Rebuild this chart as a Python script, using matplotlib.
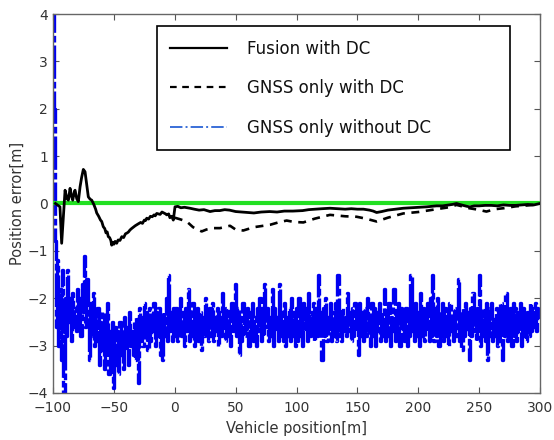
import numpy as np
import matplotlib
matplotlib.use("Agg")
import matplotlib.pyplot as plt
from matplotlib.lines import Line2D

# ---------------- data ----------------
fusion_x = [-98, -94.3, -92.9, -90.1, -88.5, -87.4, -86, -84.8, -83.8, -82.5, -81.9, -80.5,
            -79.2, -77.8, -76.5, -75.1, -73.7, -72.3, -71, -69.5, -68.2, -66.5, -65, -64.1, -62.5, -61, -60, -58.7,
            -57.5, -56.5, -55.5, -54.6, -53.5, -52.5, -51.8, -51, -50, -49, -47.7, -46.5, -45, -43.5, -42, -40.5, -39, -38,
            -36.8, -35.5, -34, -32.5, -31.3, -30, -28, -26.5, -25, -24, -23, -21.5, -20, -18.5, -17, -16, -14.8, -13.5,
            -12, -10.5, -9, -7.5, -6.6, -5, -4, -2.5, -1.2, 0.2, 2.5, 5, 8, 12.5, 16, 20, 24, 29, 33, 37,
            41, 45, 50, 55, 60, 65, 71, 78, 84, 90, 97, 105, 110, 115, 121, 127.5, 134, 140, 145, 150, 155, 160,
            163, 165.8, 170, 175, 181, 187.7, 194, 200, 207, 215, 220, 225, 228, 231.5, 234, 237, 240, 242.5, 246,
            250, 255, 260, 265, 270, 275, 280, 285, 290, 295, 300]
fusion_y = [0.0, -0.07, -0.84, 0.28, 0.1, 0.07, 0.32, 0.15, 0.07, 0.25, 0.28, 0.1,
            0.04, 0.35, 0.55, 0.72, 0.67, 0.4, 0.14, 0.09, 0.07, -0.02, -0.12, -0.2, -0.27, -0.35, -0.38, -0.49,
            -0.53, -0.62, -0.6, -0.7, -0.72, -0.78, -0.88, -0.82, -0.86, -0.8, -0.84, -0.77, -0.78, -0.7, -0.72, -0.64, -0.62, -0.6,
            -0.56, -0.53, -0.5, -0.47, -0.45, -0.43, -0.4, -0.42, -0.35, -0.36, -0.31, -0.33, -0.27, -0.28, -0.24, -0.26, -0.21, -0.22,
            -0.23, -0.18, -0.2, -0.22, -0.24, -0.22, -0.3, -0.27, -0.35, -0.07, -0.06, -0.09, -0.08, -0.1, -0.12, -0.14, -0.13, -0.17, -0.15, -0.15,
            -0.13, -0.14, -0.17, -0.18, -0.19, -0.2, -0.18, -0.17, -0.18, -0.16, -0.16, -0.15, -0.13, -0.12, -0.11, -0.1, -0.11, -0.12, -0.11, -0.12, -0.12, -0.14,
            -0.16, -0.19, -0.17, -0.14, -0.12, -0.1, -0.09, -0.08, -0.07, -0.05, -0.05, -0.03, -0.02, 0.0, -0.02, -0.04, -0.06, -0.07, -0.05,
            -0.05, -0.04, -0.04, -0.05, -0.03, -0.04, -0.04, -0.03, -0.02, -0.03, 0.0]

gnss_dc_x = [0, 4, 9.8, 15, 22.1, 26, 31.4, 37.2, 45.4, 50, 56.3, 65, 78.2, 85, 91.9, 98, 105.6, 115, 127.5,
             140, 149.4, 157, 165.8, 175, 187.7, 200, 215, 225, 231.5, 242, 249, 256, 263, 270,
             280, 290, 300]
gnss_dc_y = [-0.3, -0.33, -0.38, -0.5, -0.59, -0.55, -0.52, -0.52, -0.47, -0.55, -0.57, -0.5, -0.45, -0.4, -0.36, -0.39,
             -0.4, -0.32, -0.24, -0.27, -0.28, -0.32, -0.38, -0.3, -0.21, -0.18, -0.12, -0.08,
             -0.03, -0.1, -0.13, -0.17, -0.12, -0.1, -0.06, -0.04, -0.02]

gnss_nodc_x = list(range(-100, 301))
gnss_nodc_y = [
    8.0, 2.0, -0.8, -2.6, -1.2, -3.0, -1.8, -3.3, -1.4, -4.2,
    -2.0, -2.8, -1.4, -2.5, -2.0, -2.9, -1.9, -2.6, -2.2, -2.7,
    -1.8, -2.5, -2.0, -2.8, -1.7, -2.3, -1.1, -2.6, -1.6, -2.4,
    -3.3, -2.1, -2.8, -1.9, -3.0, -2.3, -2.9, -2.2, -3.4, -2.5,
    -3.1, -2.3, -3.5, -2.6, -3.0, -2.1, -3.6, -2.7, -3.3, -2.5,
    -3.9, -2.6, -3.4, -2.7, -3.6, -2.5, -3.2, -2.8, -3.5, -2.4,
    -3.1, -2.6, -3.4, -2.3, -3.0, -2.7, -3.2, -2.5, -3.3, -2.4,
    -3.8, -2.2, -2.9, -2.4, -3.0, -2.1, -2.8, -2.3, -3.1, -2.2,
    -2.9, -2.4, -2.7, -2.1, -3.0, -2.3, -2.8, -2.2, -3.2, -2.4,
    -3.3, -2.3, -2.8, -2.0, -2.9, -1.5, -2.7, -2.3, -2.9, -2.2,
    -2.8, -2.2, -2.9, -2.4, -2.7, -2.0, -2.8, -2.3, -3.0, -2.2,
    -2.7, -1.8, -2.9, -2.3, -2.8, -2.1, -3.0, -2.4, -2.7, -2.2,
    -2.9, -2.3, -3.1, -2.4, -2.8, -2.0, -2.7, -2.3, -2.9, -2.2,
    -2.8, -2.1, -2.9, -2.4, -2.7, -2.2, -3.0, -2.3, -2.8, -1.9,
    -2.6, -2.3, -2.9, -2.2, -2.8, -2.4, -3.0, -2.1, -2.7, -2.3,
    -1.7, -2.8, -2.2, -3.2, -2.4, -2.9, -2.1, -2.8, -2.3, -2.7,
    -2.2, -3.0, -2.3, -2.8, -2.1, -2.9, -2.4, -3.0, -2.2, -2.7,
    -2.0, -2.9, -2.3, -2.8, -1.7, -2.6, -2.2, -2.9, -2.4, -2.8,
    -1.8, -3.0, -2.2, -2.7, -2.4, -2.9, -1.7, -2.8, -2.3, -2.9,
    -2.1, -3.0, -2.4, -2.8, -2.2, -2.9, -2.0, -2.8, -2.3, -3.0,
    -2.2, -2.9, -2.0, -2.8, -2.3, -3.0, -2.1, -2.7, -2.2, -2.9,
    -1.9, -2.8, -2.3, -2.7, -2.1, -2.9, -2.2, -2.8, -1.5, -2.7,
    -2.3, -3.3, -2.2, -2.8, -2.0, -2.9, -2.4, -2.7, -2.1, -2.9,
    -2.3, -2.8, -2.1, -2.9, -1.5, -2.8, -2.3, -2.9, -2.2, -2.7,
    -2.4, -2.8, -1.9, -2.7, -2.3, -2.9, -2.2, -2.8, -2.1, -2.7,
    -2.3, -3.2, -2.1, -2.8, -2.3, -2.9, -2.2, -2.8, -2.0, -2.7,
    -2.4, -3.0, -2.1, -2.8, -2.2, -3.0, -2.3, -2.7, -2.1, -2.9,
    -2.3, -2.8, -1.8, -2.9, -2.3, -2.8, -2.1, -3.0, -2.4, -2.7,
    -1.8, -2.9, -2.3, -2.8, -2.1, -3.0, -2.2, -2.7, -2.4, -2.9,
    -2.2, -3.0, -2.3, -2.8, -1.5, -2.7, -2.2, -2.9, -2.1, -2.8,
    -2.3, -3.0, -1.9, -2.8, -2.2, -2.9, -2.4, -2.7, -2.1, -2.9,
    -2.0, -2.8, -1.5, -2.9, -2.2, -2.8, -2.0, -3.0, -2.3, -2.8,
    -2.1, -2.9, -2.2, -2.8, -2.3, -3.0, -2.1, -2.7, -2.4, -2.9,
    -2.2, -2.8, -2.3, -1.6, -2.9, -2.3, -3.1, -2.2, -2.8, -2.1,
    -2.7, -2.3, -3.3, -2.2, -2.8, -1.9, -2.7, -2.3, -2.9, -2.2,
    -1.5, -3.0, -2.3, -2.8, -2.2, -2.9, -2.1, -3.3, -2.2, -2.8,
    -2.1, -2.9, -2.4, -2.8, -2.2, -3.0, -2.3, -2.9, -2.1, -3.3,
    -2.2, -2.8, -1.9, -2.9, -2.3, -2.7, -2.2, -3.0, -2.1, -2.8,
    -2.2, -2.9, -2.3, -2.7, -2.1, -3.0, -2.2, -2.8, -2.4, -2.9,
    -2.3, -2.8, -2.1, -2.7, -2.2, -2.6, -2.1, -2.7, -2.2, -2.4,
    -2.3]

labels = ["Fusion with DC", "GNSS only with DC", "GNSS only without DC"]
x_ticks = [-100, -50, 0, 50, 100, 150, 200, 250, 300]
y_ticks = [-4, -3, -2, -1, 0, 1, 2, 3, 4]

# ---------------- plot ----------------
plt.rcParams['font.family'] = ['DejaVu Sans']
fig = plt.figure(figsize=(5.54, 4.40), dpi=100)
ax = fig.add_axes([0.0957, 0.107, 0.879, 0.861])

ax.plot(gnss_nodc_x, gnss_nodc_y, color='#0000f0', lw=2.4, ls=(0, (10, 0.9, 2.0, 0.9)),
        drawstyle='steps-mid', zorder=2)
ax.axhline(0, color='#22e022', lw=3, zorder=3)
ax.plot(gnss_dc_x, gnss_dc_y, color='black', lw=1.9, ls=(0, (3, 2.5)), zorder=4)
ax.plot(fusion_x, fusion_y, color='black', lw=2.0, zorder=5)

ax.set_xlim(-100, 300)
ax.set_ylim(-4, 4)
ax.set_xticks(x_ticks)
ax.set_yticks(y_ticks)
ax.tick_params(direction='in', top=True, right=True, labelsize=10, colors='#555555',
               labelcolor='#333333', length=4)
ax.tick_params(axis='x', pad=6)
for s in ax.spines.values():
    s.set_color('#666666')
    s.set_linewidth(1)
ax.set_xlabel("Vehicle position[m]", fontsize=10.5, color='#333333', labelpad=4)
ax.set_ylabel("Position error[m]", fontsize=10.5, color='#333333', labelpad=2)

handles = [Line2D([], [], color='black', lw=1.6),
           Line2D([], [], color='black', lw=1.6, ls=(0, (3, 2.5))),
           Line2D([], [], color='#3a6fd8', lw=1.4, ls='-.')]
leg = ax.legend(handles, labels, loc='upper left',
                bbox_to_anchor=(0.2136, 0.639, 0.7248, 0.329), mode='expand',
                borderaxespad=0, fontsize=12, frameon=True, fancybox=False,
                framealpha=1, edgecolor='black', handlelength=3.4,
                handletextpad=1.2, labelspacing=1.3, borderpad=0.8)
leg.get_frame().set_linewidth(1.2)
for t in leg.get_texts():
    t.set_color('#111111')

fig.savefig("out.png", dpi=100)
